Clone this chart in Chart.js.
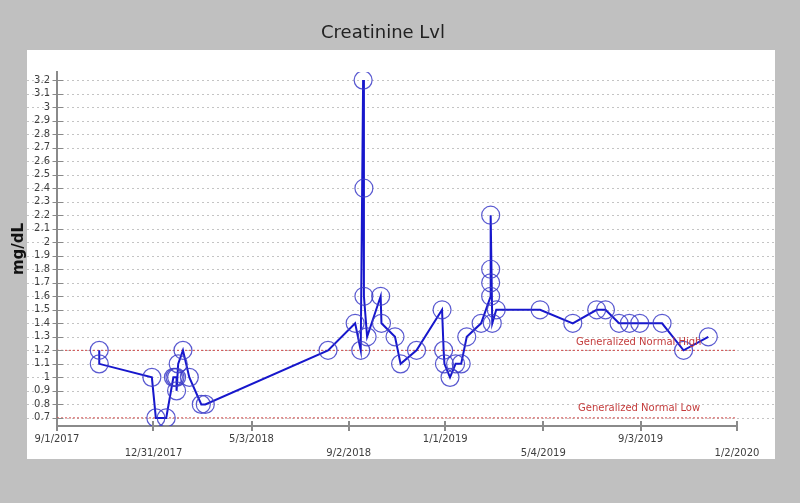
<!DOCTYPE html>
<html lang="en">
	<head>
		<meta charset="UTF-8" />
		<script src="https://cdn.jsdelivr.net/npm/chart.js@4.4.0/dist/chart.umd.min.js"></script>
		<title>Creatinine Lvl</title>
		<style>
			body { margin: 0; background: #c0c0c0; }
			#wrap { width: 800px; height: 503px; }
		</style>
	</head>
	<body>
		<div id="wrap"><canvas id="chart" width="800" height="503"></canvas></div>
		<script>
			const titleText = 'Creatinine Lvl';
			const yTitle = 'mg/dL';

			// lab draws
			const drawDates = [
				'2017-10-24', '2017-10-24', '2017-12-29', '2018-01-03', '2018-01-16', '2018-01-25', '2018-01-27',
				'2018-01-29', '2018-01-29', '2018-01-31', '2018-02-06', '2018-02-14', '2018-03-01', '2018-03-06',
				'2018-08-07', '2018-09-10', '2018-09-17', '2018-09-20', '2018-09-21', '2018-09-21', '2018-09-25',
				'2018-10-12', '2018-10-13', '2018-10-30', '2018-11-06', '2018-11-26',
				'2018-12-28', '2018-12-30', '2018-12-31', '2019-01-07', '2019-01-14', '2019-01-21', '2019-01-28',
				'2019-02-15', '2019-02-27', '2019-02-27', '2019-02-27', '2019-02-27', '2019-03-01', '2019-03-06',
				'2019-04-30', '2019-06-10', '2019-07-10', '2019-07-21', '2019-08-07', '2019-08-20', '2019-09-02',
				'2019-09-30', '2019-10-27', '2019-11-27'
			];
			const creatinine = [
				1.2, 1.1, 1.0, 0.7, 0.7, 1.0, 1.0,
				1.0, 0.9, 1.1, 1.2, 1.0, 0.8, 0.8,
				1.2, 1.4, 1.2, 3.2, 2.4, 1.6, 1.3,
				1.6, 1.4, 1.3, 1.1, 1.2,
				1.5, 1.2, 1.1, 1.0, 1.1, 1.1, 1.3,
				1.4, 1.6, 1.7, 1.8, 2.2, 1.4, 1.5,
				1.5, 1.4, 1.5, 1.5, 1.4, 1.4, 1.4,
				1.4, 1.2, 1.3
			];

			const normalHigh = 1.2;
			const normalLow = 0.7;
			const normalHighLabel = 'Generalized Normal High';
			const normalLowLabel = 'Generalized Normal Low';

			const xTickDates = ['2017-09-01', '2017-12-31', '2018-05-03', '2018-09-02', '2019-01-01', '2019-05-04', '2019-09-03', '2020-01-02'];
			const xTickLabels = ['9/1/2017', '12/31/2017', '5/3/2018', '9/2/2018', '1/1/2019', '5/4/2019', '9/3/2019', '1/2/2020'];
			const yTicks = [0.7, 0.8, 0.9, 1, 1.1, 1.2, 1.3, 1.4, 1.5, 1.6, 1.7, 1.8, 1.9, 2, 2.1, 2.2, 2.3, 2.4, 2.5, 2.6, 2.7, 2.8, 2.9, 3, 3.1, 3.2];

			// days since the first x tick
			const start = Date.UTC(2017, 8, 1);
			const toDay = (s) => {
				const p = s.split('-').map(Number);
				return (Date.UTC(p[0], p[1] - 1, p[2]) - start) / 86400000;
			};
			const xTickDays = xTickDates.map(toDay);
			const xMax = xTickDays[xTickDays.length - 1];

			const points = drawDates.map((d, i) => ({ x: toDay(d), y: creatinine[i] }));
			const refLine = (v) => [{ x: 0, y: v }, { x: xMax, y: v }];

			const frame = {
				id: 'frame',
				beforeDraw(chart) {
					const ctx = chart.ctx;
					const ys = chart.scales.y;
					ctx.save();
					ctx.fillStyle = '#c0c0c0';
					ctx.fillRect(0, 0, chart.width, chart.height);
					ctx.fillStyle = '#ffffff';
					ctx.fillRect(27, 50, 748, 409);

					ctx.fillStyle = '#222';
					ctx.font = '18px "DejaVu Sans"';
					ctx.textAlign = 'center';
					ctx.textBaseline = 'middle';
					ctx.fillText(titleText, 383, 33);

					ctx.strokeStyle = '#c4c4c4';
					ctx.lineWidth = 1;
					ctx.setLineDash([2, 3]);
					ys.ticks.forEach((t) => {
						const py = Math.round(ys.getPixelForValue(t.value)) + 0.5;
						ctx.beginPath();
						ctx.moveTo(27, py);
						ctx.lineTo(775, py);
						ctx.stroke();
					});
					ctx.restore();
				},
				afterDraw(chart) {
					const ctx = chart.ctx;
					const xs = chart.scales.x;
					const ys = chart.scales.y;
					const a = chart.chartArea;
					ctx.save();
					ctx.strokeStyle = '#8a8a8a';
					ctx.lineWidth = 1;
					ys.ticks.forEach((t) => {
						const py = Math.round(ys.getPixelForValue(t.value)) + 0.5;
						ctx.beginPath();
						ctx.moveTo(a.left - 4, py);
						ctx.lineTo(a.left + 6, py);
						ctx.stroke();
					});
					ctx.lineWidth = 2;
					xs.ticks.forEach((t) => {
						const px = Math.round(xs.getPixelForValue(t.value));
						ctx.beginPath();
						ctx.moveTo(px, a.bottom - 5);
						ctx.lineTo(px, a.bottom + 5);
						ctx.stroke();
					});

					ctx.fillStyle = '#c43c3c';
					ctx.font = '10px "DejaVu Sans"';
					ctx.textAlign = 'left';
					ctx.textBaseline = 'middle';
					ctx.fillText(normalHighLabel, a.right - 161, ys.getPixelForValue(normalHigh) - 8);
					ctx.fillText(normalLowLabel, a.right - 159, ys.getPixelForValue(normalLow) - 9);
					ctx.restore();
				}
			};

			new Chart(document.getElementById('chart'), {
				type: 'line',
				data: {
					datasets: [
						{
							label: 'Creatinine',
							data: points,
							borderColor: '#1717cc',
							borderWidth: 2,
							tension: 0,
							pointStyle: 'circle',
							pointRadius: 9,
							pointBorderWidth: 1.2,
							pointBorderColor: 'rgba(60, 60, 200, 0.85)',
							pointBackgroundColor: 'rgba(0, 0, 0, 0)'
						},
						{
							label: normalHighLabel,
							data: refLine(normalHigh),
							borderColor: '#d04848',
							borderWidth: 1,
							borderDash: [2, 2],
							pointRadius: 0
						},
						{
							label: normalLowLabel,
							data: refLine(normalLow),
							borderColor: '#d04848',
							borderWidth: 1,
							borderDash: [2, 2],
							pointRadius: 0
						}
					]
				},
				options: {
					responsive: false,
					animation: false,
					devicePixelRatio: 1,
					layout: { padding: { left: 0, right: 63, top: 72, bottom: 0 } },
					plugins: {
						legend: { display: false },
						tooltip: { enabled: false }
					},
					scales: {
						x: {
							type: 'linear',
							min: 0,
							max: xMax,
							afterBuildTicks: (s) => { s.ticks = xTickDays.map((v) => ({ value: v })); },
							afterFit: (s) => { s.height = 77; },
							grid: { display: false, drawTicks: false },
							border: { color: '#8a8a8a', width: 2 },
							ticks: {
								autoSkip: false,
								maxRotation: 0,
								padding: 7,
								color: '#404040',
								font: { family: 'DejaVu Sans', size: 10, lineHeight: 1.35 },
								callback: (v, i) => (i % 2 === 0 ? [xTickLabels[i]] : ['', xTickLabels[i]])
							}
						},
						y: {
							type: 'linear',
							min: 0.64,
							max: 3.26,
							afterBuildTicks: (s) => { s.ticks = yTicks.map((v) => ({ value: v })); },
							afterFit: (s) => { s.width = 57; },
							grid: { display: false, drawTicks: false },
							border: { color: '#8a8a8a', width: 2 },
							title: {
								display: true,
								text: yTitle,
								color: '#111',
								padding: { top: 10, bottom: 0 },
								font: { family: 'DejaVu Sans', size: 15, weight: 'bold' }
							},
							ticks: {
								autoSkip: false,
								padding: 7,
								color: '#404040',
								font: { family: 'DejaVu Sans', size: 10 },
								callback: (v) => String(v)
							}
						}
					}
				},
				plugins: [frame]
			});
		</script>
	</body>
</html>
